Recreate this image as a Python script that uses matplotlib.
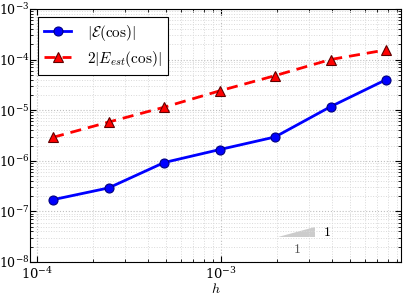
import numpy as np
import matplotlib.pyplot as plt

plt.rcParams['mathtext.fontset'] = 'cm'
plt.rcParams['font.family'] = 'DejaVu Serif'

# step sizes h = 1/8192 ... 1/128
h = np.array([1/8192, 1/4096, 1/2048, 1/1024, 1/512, 1/256, 1/128])
err = np.array([1.7e-7, 2.9e-7, 9.2e-7, 1.66e-6, 2.95e-6, 1.17e-5, 4.0e-5])
est = np.array([2.9e-6, 5.8e-6, 1.14e-5, 2.4e-5, 4.8e-5, 1.0e-4, 1.55e-4])

# slope triangle
tri_x = np.array([2.02e-3, 3.23e-3])
tri_y = np.array([3.1e-8, 4.96e-8])


def main():
    fig = plt.figure(figsize=(4.07, 2.97), dpi=100)
    ax = fig.add_axes([0.074, 0.118, 0.911, 0.852])

    ax.loglog(h, err, 'o-', color='#0000ff', lw=2, ms=6.5, mec='#000080',
              mew=0.8, label=r'$|\mathcal{E}(\cos)|$')
    ax.loglog(h, est, '^--', color='#ff0000', lw=2, ms=6.5, mec='#600000',
              mew=0.8, dashes=(4, 2.5), label=r'$2|E_{est}(\cos)|$')

    # slope triangle
    ax.fill([tri_x[0], tri_x[1], tri_x[1]], [tri_y[0], tri_y[0], tri_y[1]],
            color='0.8', lw=0)
    ax.text(tri_x[1] * 1.1, np.sqrt(tri_y[0] * tri_y[1]), '$1$',
            fontsize=10, va='center', ha='left')
    ax.text(np.sqrt(tri_x[0] * tri_x[1]), tri_y[0] / 1.25, '$1$',
            fontsize=10, va='top', ha='center', color='0.35')

    ax.set_xlim(9.17e-5, 9.4e-3)
    ax.set_ylim(1e-8, 1e-3)
    ax.set_xlabel('$h$', fontsize=10, labelpad=0)

    ax.grid(True, which='major', ls=':', color='0.75', lw=0.8)
    ax.grid(True, which='minor', ls=':', color='0.85', lw=0.7)
    ax.tick_params(which='both', direction='in', top=True, right=True,
                   labelsize=9.5)
    ax.tick_params(which='major', length=4)
    ax.tick_params(which='minor', length=2)
    ax.tick_params(axis='y', which='both', pad=0.5, labelsize=9)
    ax.tick_params(axis='x', which='both', pad=3)

    leg = ax.legend(loc='upper left', fontsize=11, fancybox=False,
                    edgecolor='black', framealpha=1, borderaxespad=0.5,
                    handlelength=1.8, handletextpad=1.0, labelspacing=0.4,
                    borderpad=0.4)
    leg.get_frame().set_linewidth(0.8)

    fig.savefig('out.png', dpi=100)


if __name__ == '__main__':
    main()
